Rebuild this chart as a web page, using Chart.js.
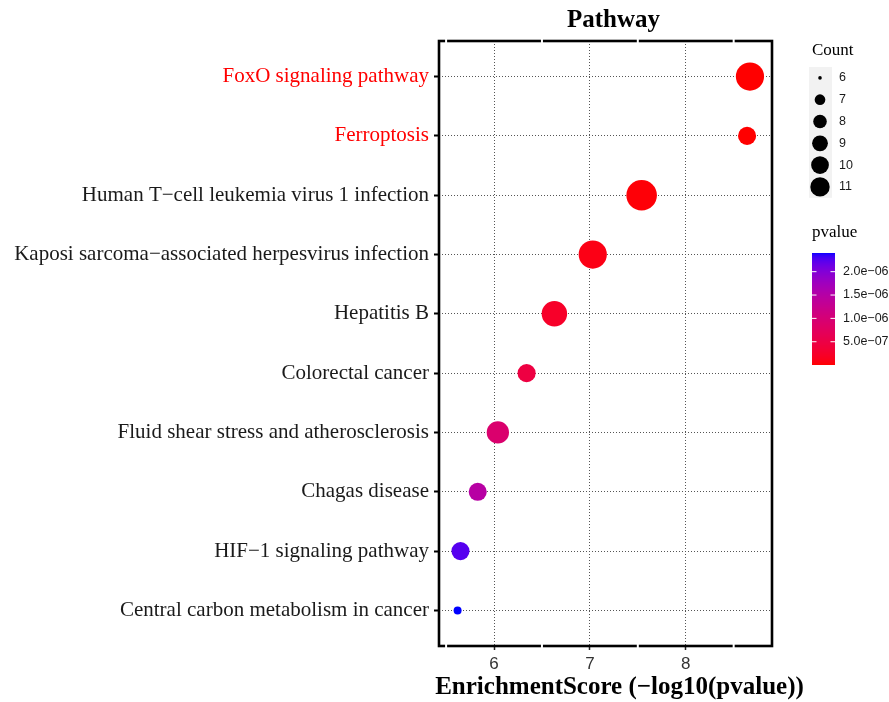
<!DOCTYPE html>
<html>
<head>
<meta charset="utf-8">
<script src="https://cdn.jsdelivr.net/npm/chart.js@4.4.1/dist/chart.umd.min.js"></script>
<style>
  html, body { margin: 0; padding: 0; background: #fff; }
  #wrap { position: absolute; left: 0; top: 0; width: 889px; height: 702px; }
</style>
</head>
<body>
<div id="wrap"><canvas id="dotplot" width="889" height="702"></canvas></div>
<script>
/* ============================================================
   KEGG pathway enrichment – dot plot
   ============================================================ */

const pathways = [
  'FoxO signaling pathway',
  'Ferroptosis',
  'Human T\u2212cell leukemia virus 1 infection',
  'Kaposi sarcoma\u2212associated herpesvirus infection',
  'Hepatitis B',
  'Colorectal cancer',
  'Fluid shear stress and atherosclerosis',
  'Chagas disease',
  'HIF\u22121 signaling pathway',
  'Central carbon metabolism in cancer'
];
const highlighted = ['FoxO signaling pathway', 'Ferroptosis'];
const enrichmentScore = [8.67, 8.64, 7.54, 7.03, 6.63, 6.34, 6.04, 5.83, 5.65, 5.62];
const geneCount = [10, 7, 11, 10, 9, 7, 8, 7, 7, 6];
const pvalues = [2.1e-9, 2.3e-9, 2.9e-8, 9.3e-8, 2.3e-7, 4.6e-7, 9.1e-7, 1.48e-6, 2.24e-6, 2.40e-6];
const xTicks = [6, 7, 8];
const xMinor = [5.5, 6.5, 7.5, 8.5];
const countBreaks = [6, 7, 8, 9, 10, 11];
const pvalueBreaks = [5e-7, 1e-6, 1.5e-6, 2e-6];
const pvalueLabels = ['5.0e\u221207', '1.0e\u221206', '1.5e\u221206', '2.0e\u221206'];

const SERIF = '"Liberation Serif", "DejaVu Serif", serif';
const SANS = '"Liberation Sans", Arial, sans-serif';

/* Helper: colour ramp red -> blue in CIELAB (like ggplot) */
function toLin(c) { c /= 255; return c <= 0.04045 ? c / 12.92 : Math.pow((c + 0.055) / 1.055, 2.4); }
function fromLin(c) { c = c <= 0.0031308 ? 12.92 * c : 1.055 * Math.pow(c, 1 / 2.4) - 0.055; return Math.max(0, Math.min(255, Math.round(c * 255))); }
function rgbToLab(r, g, b) {
  r = toLin(r); g = toLin(g); b = toLin(b);
  let x = (r * 0.4124 + g * 0.3576 + b * 0.1805) / 0.95047;
  let y = (r * 0.2126 + g * 0.7152 + b * 0.0722);
  let z = (r * 0.0193 + g * 0.1192 + b * 0.9505) / 1.08883;
  const f = t => t > 0.008856 ? Math.cbrt(t) : 7.787 * t + 16 / 116;
  x = f(x); y = f(y); z = f(z);
  return [116 * y - 16, 500 * (x - y), 200 * (y - z)];
}
function labToRgb(L, a, bb) {
  let y = (L + 16) / 116, x = a / 500 + y, z = y - bb / 200;
  const fi = t => t * t * t > 0.008856 ? t * t * t : (t - 16 / 116) / 7.787;
  x = fi(x) * 0.95047; y = fi(y); z = fi(z) * 1.08883;
  const r = x * 3.2406 + y * -1.5372 + z * -0.4986;
  const g = x * -0.9689 + y * 1.8758 + z * 0.0415;
  const b = x * 0.0557 + y * -0.2040 + z * 1.0570;
  return 'rgb(' + fromLin(r) + ',' + fromLin(g) + ',' + fromLin(b) + ')';
}
const LAB_LOW = rgbToLab(255, 0, 0);
const LAB_HIGH = rgbToLab(0, 0, 255);
const pMin = Math.min(...pvalues), pMax = Math.max(...pvalues);
function pColor(p) {
  const t = Math.max(0, Math.min(1, (p - pMin) / (pMax - pMin)));
  return labToRgb(LAB_LOW[0] + (LAB_HIGH[0] - LAB_LOW[0]) * t,
                  LAB_LOW[1] + (LAB_HIGH[1] - LAB_LOW[1]) * t,
                  LAB_LOW[2] + (LAB_HIGH[2] - LAB_LOW[2]) * t);
}

/* Helper: area-scaled point size */
const cMin = Math.min(...geneCount), cMax = Math.max(...geneCount);
function sizeOf(c, rLo, rHi) {
  return rLo + (rHi - rLo) * Math.sqrt((c - cMin) / (cMax - cMin));
}

/* Plugin: panel border, titles and the two legends */
const decorations = {
  id: 'decorations',
  afterDraw(chart) {
    const ctx = chart.ctx;
    const a = chart.chartArea;
    const xs = chart.scales.x;
    ctx.save();

    // panel border
    ctx.strokeStyle = '#000';
    ctx.lineWidth = 2.6;
    ctx.strokeRect(a.left, a.top, a.right - a.left, a.bottom - a.top);
    // white gaps at minor breaks
    ctx.fillStyle = '#fff';
    xMinor.forEach(v => {
      const px = xs.getPixelForValue(v);
      ctx.fillRect(px - 1, a.top - 2, 2, 4);
      ctx.fillRect(px - 1, a.bottom - 2, 2, 4);
    });

    // title and x axis title
    const cx = (a.left + a.right) / 2 + 8;
    ctx.fillStyle = '#000';
    ctx.textAlign = 'center';
    ctx.textBaseline = 'alphabetic';
    ctx.font = 'bold 25px ' + SERIF;
    ctx.fillText('Pathway', cx, 27);
    ctx.font = 'bold 25px ' + SERIF;
    ctx.fillText('EnrichmentScore (\u2212log10(pvalue))', cx + 6, 694);

    // Count legend
    const lx = 809, kw = 23, kh = 21.8, ky = 67;
    ctx.textAlign = 'left';
    ctx.font = '17px ' + SERIF;
    ctx.fillText('Count', 812, 55);
    ctx.fillStyle = '#f2f2f2';
    ctx.fillRect(lx, ky, kw, kh * countBreaks.length);
    countBreaks.forEach((c, i) => {
      const cy = ky + kh * (i + 0.5);
      ctx.fillStyle = '#000';
      ctx.beginPath();
      ctx.arc(lx + kw / 2 - 0.5, cy, sizeOf(c, 1.8, 9.7), 0, Math.PI * 2);
      ctx.fill();
      ctx.fillStyle = '#1a1a1a';
      ctx.font = '12.5px ' + SANS;
      ctx.textBaseline = 'middle';
      ctx.fillText(String(c), 839, cy);
      ctx.textBaseline = 'alphabetic';
    });

    // pvalue colourbar
    ctx.fillStyle = '#000';
    ctx.font = '17px ' + SERIF;
    ctx.fillText('pvalue', 812, 237);
    const bx = 812, bw = 23, bTop = 253, bBot = 365;
    for (let y = bTop; y < bBot; y++) {
      const p = pMax - (y + 0.5 - bTop) / (bBot - bTop) * (pMax - pMin);
      ctx.fillStyle = pColor(p);
      ctx.fillRect(bx, y, bw, 1);
    }
    pvalueBreaks.forEach((p, i) => {
      const y = bBot - (p - pMin) / (pMax - pMin) * (bBot - bTop);
      ctx.strokeStyle = '#fff';
      ctx.lineWidth = 1;
      ctx.beginPath();
      ctx.moveTo(bx, y); ctx.lineTo(bx + 4.5, y);
      ctx.moveTo(bx + bw - 4.5, y); ctx.lineTo(bx + bw, y);
      ctx.stroke();
      ctx.fillStyle = '#1a1a1a';
      ctx.font = '12.5px ' + SANS;
      ctx.textBaseline = 'middle';
      ctx.fillText(pvalueLabels[i], 843, y);
      ctx.textBaseline = 'alphabetic';
    });

    ctx.restore();
  }
};

const points = pathways.map((name, i) => ({ x: enrichmentScore[i], y: i }));

new Chart(document.getElementById('dotplot'), {
  type: 'scatter',
  data: {
    datasets: [{
      label: 'Pathway',
      data: points,
      backgroundColor: ctx => pColor(pvalues[ctx.dataIndex]),
      borderWidth: 0,
      pointRadius: ctx => sizeOf(geneCount[ctx.dataIndex], 4, 15.3),
      pointHoverRadius: ctx => sizeOf(geneCount[ctx.dataIndex], 4, 15.3)
    }]
  },
  options: {
    responsive: false,
    animation: false,
    events: [],
    layout: { padding: { left: 0, right: 117, top: 41, bottom: 0 } },
    plugins: {
      legend: { display: false },
      tooltip: { enabled: false },
      title: { display: false }
    },
    scales: {
      x: {
        type: 'linear',
        min: 5.426,
        max: 8.9,
        afterBuildTicks: scale => { scale.ticks = xTicks.map(v => ({ value: v })); },
        afterFit: scale => { scale.height = 56; },
        ticks: { font: { family: SANS, size: 17 }, color: '#333', padding: 4 },
        grid: { color: '#555', lineWidth: 1, drawTicks: true, tickLength: 4, tickColor: '#222', tickWidth: 1.5, tickBorderDash: [] },
        border: { display: false, dash: [1, 2] }
      },
      y: {
        type: 'linear',
        reverse: true,
        min: -0.6,
        max: 9.6,
        afterBuildTicks: scale => { scale.ticks = pathways.map((_, i) => ({ value: i })); },
        afterFit: scale => { scale.width = 439; },
        ticks: {
          autoSkip: false,
          padding: 5,
          font: { family: SERIF, size: 21 },
          color: ctx => highlighted.includes(pathways[ctx.index]) ? '#ff0000' : '#1a1a1a',
          callback: v => pathways[v]
        },
        grid: { color: '#555', lineWidth: 1, drawTicks: true, tickLength: 5, tickColor: '#000', tickWidth: 2, tickBorderDash: [] },
        border: { display: false, dash: [1, 2] }
      }
    }
  },
  plugins: [decorations]
});
</script>
</body>
</html>
